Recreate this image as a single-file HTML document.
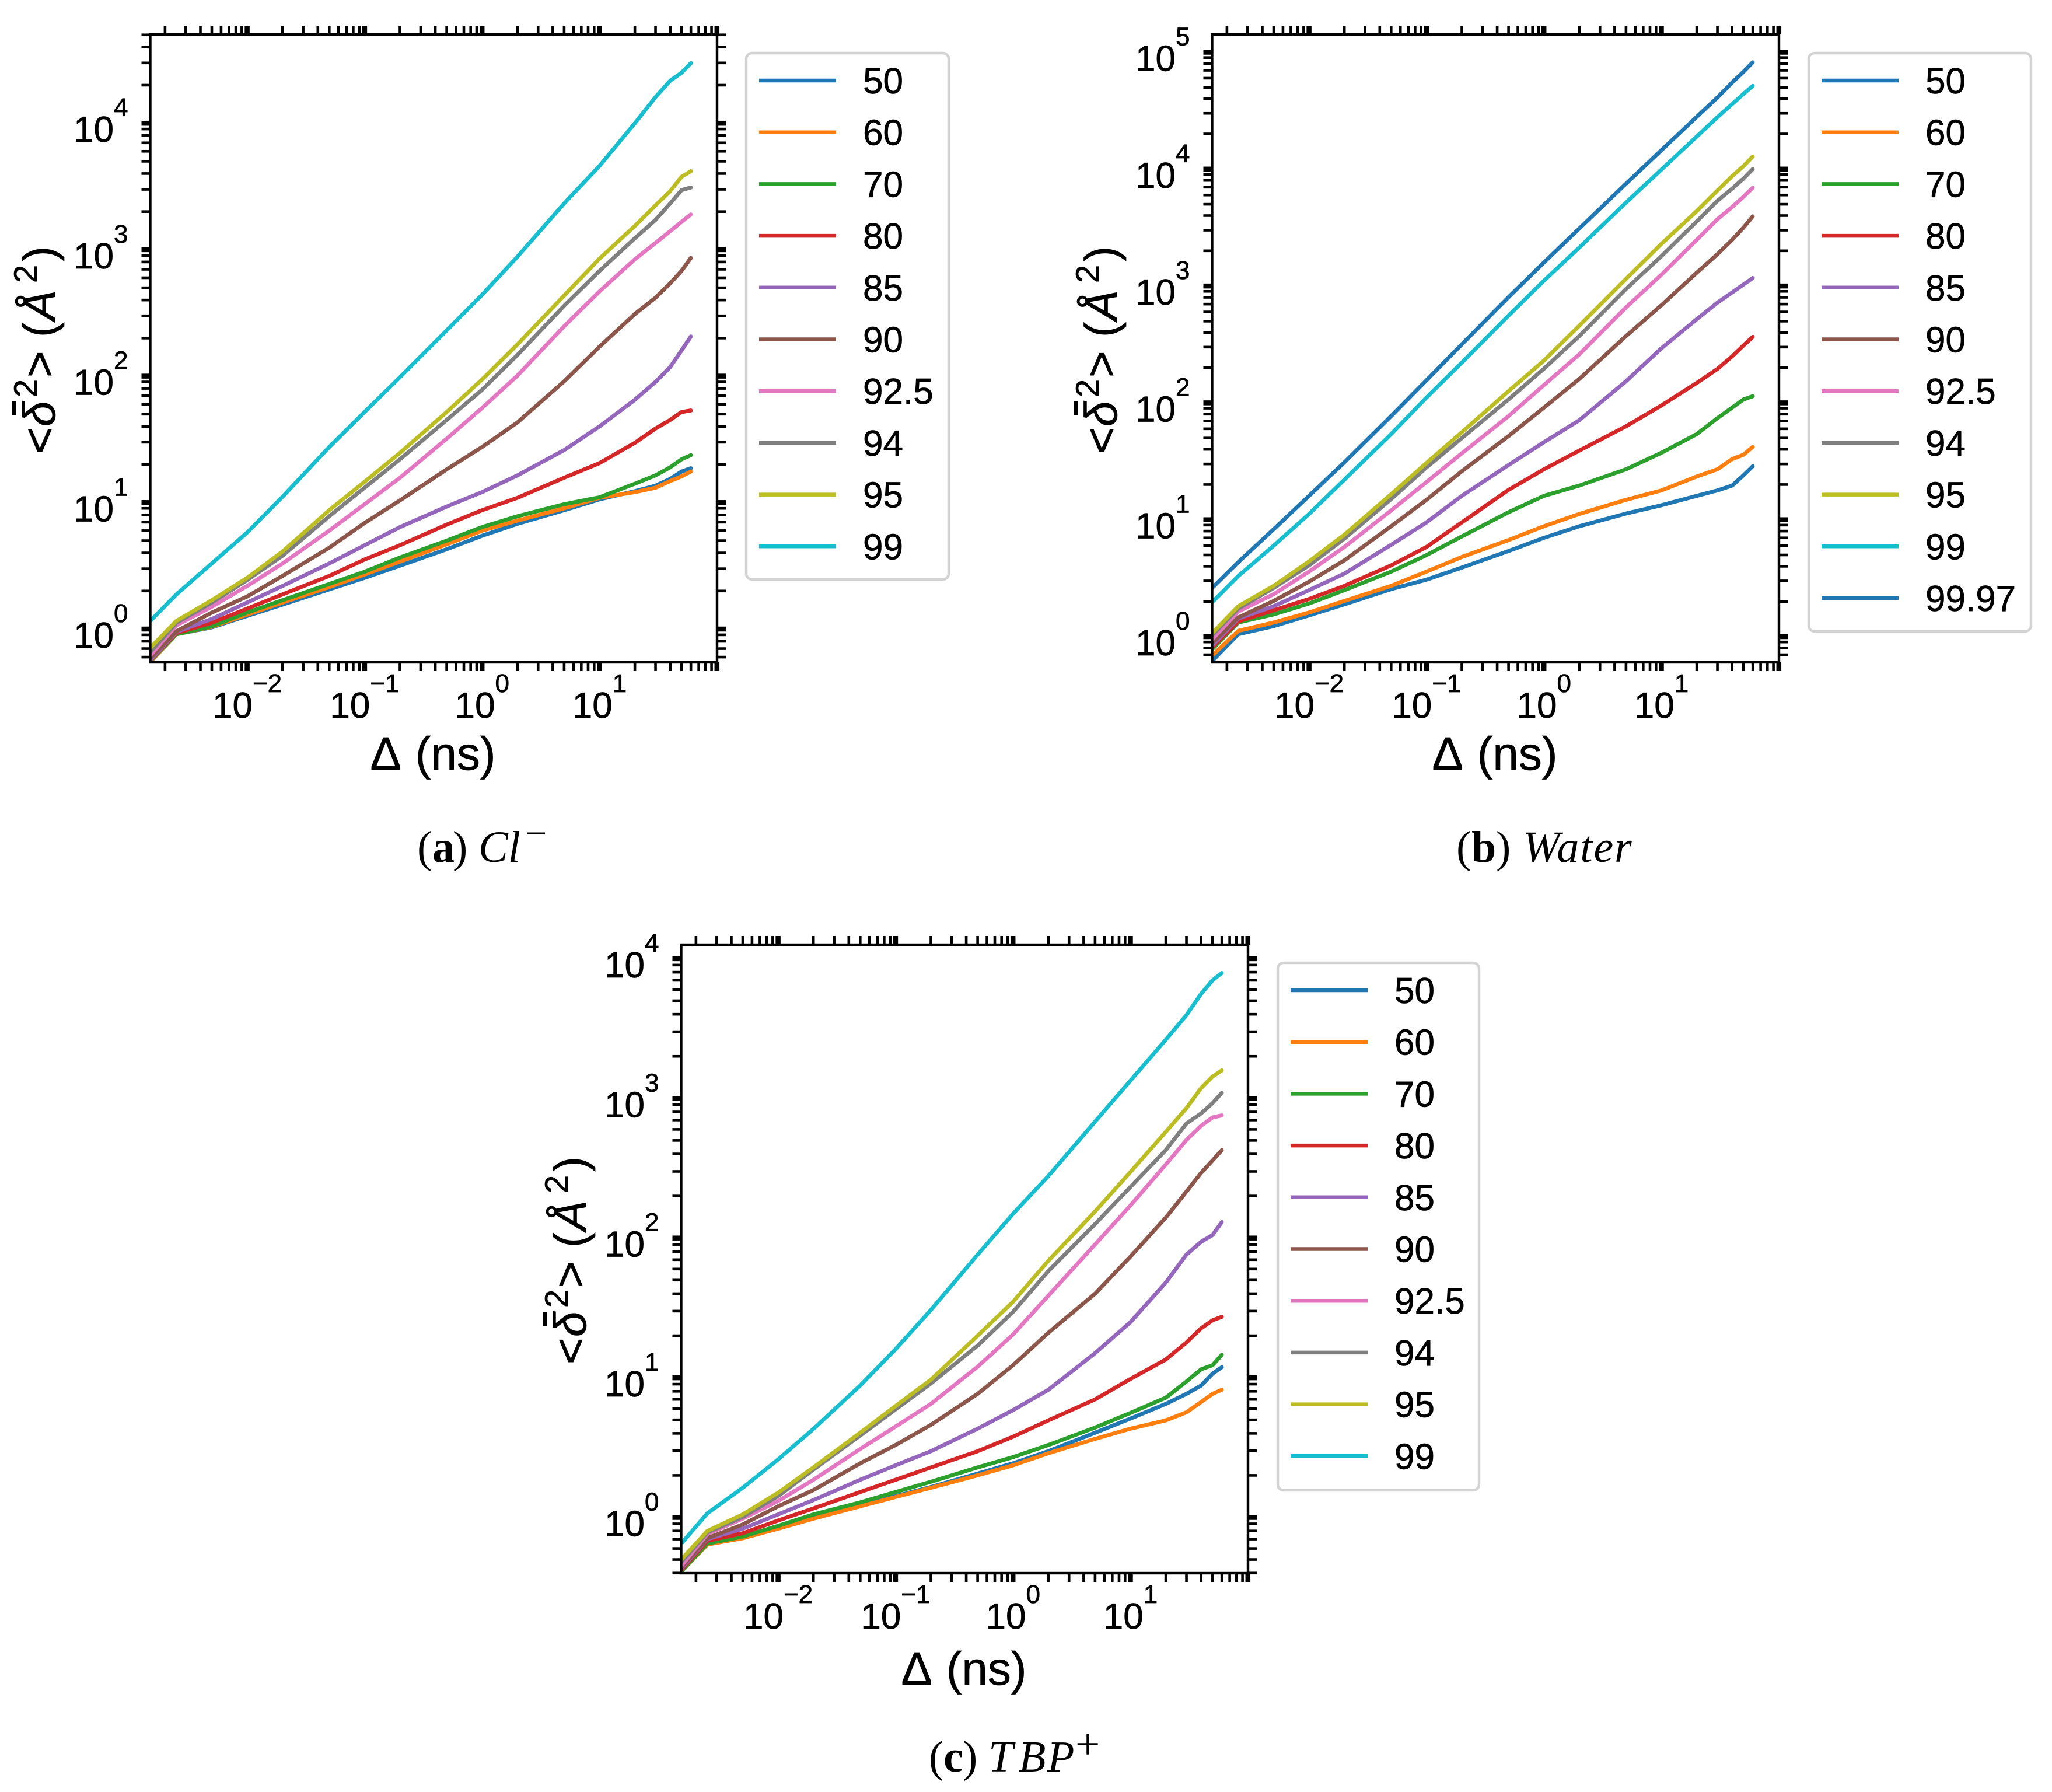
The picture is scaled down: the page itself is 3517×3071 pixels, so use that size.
<!DOCTYPE html>
<html lang="en">
<head>
<meta charset="utf-8">
<title>Mean squared displacement panels</title>
<style>
html,body{margin:0;padding:0;background:#fff;}
svg{display:block;}
text{font-family:"Liberation Sans",sans-serif;fill:#000;stroke:#000;stroke-width:.7px;}
.cap,.cap tspan{font-family:"Liberation Serif",serif;stroke-width:0;}
</style>
</head>
<body>
<svg id="figure" xmlns="http://www.w3.org/2000/svg" width="3517" height="3071" viewBox="0 0 3517 3071">
<rect x="0" y="0" width="3517" height="3071" fill="#fff"/>

<g transform="translate(94,773) rotate(-90)">
<text font-size="78"><tspan x="-5">&lt;</tspan><tspan x="42" font-style="italic">δ</tspan><tspan x="92" y="-31" font-size="56">2</tspan><tspan x="126" y="0">&gt;</tspan><tspan x="195" y="0">(</tspan><tspan x="224" y="0" font-style="italic">Å</tspan><tspan x="288" y="-31" font-size="56">2</tspan><tspan x="325" y="0">)</tspan></text>
<rect x="61" y="-74" width="24" height="7" fill="#000"/>
</g>
<text x="742" y="1319" text-anchor="middle" font-size="80" word-spacing="6">Δ (ns)</text>
<text class="cap" y="1477" font-size="76"><tspan x="715">(</tspan><tspan x="741" font-weight="bold">a</tspan><tspan x="776">)</tspan><tspan x="820" font-style="italic">Cl</tspan><tspan x="900" y="1450" font-size="66">−</tspan></text>

<g transform="translate(1914,773) rotate(-90)">
<text font-size="78"><tspan x="-5">&lt;</tspan><tspan x="42" font-style="italic">δ</tspan><tspan x="92" y="-31" font-size="56">2</tspan><tspan x="126" y="0">&gt;</tspan><tspan x="195" y="0">(</tspan><tspan x="224" y="0" font-style="italic">Å</tspan><tspan x="288" y="-31" font-size="56">2</tspan><tspan x="325" y="0">)</tspan></text>
<rect x="61" y="-74" width="24" height="7" fill="#000"/>
</g>
<text x="2562" y="1319" text-anchor="middle" font-size="80" word-spacing="6">Δ (ns)</text>
<text class="cap" y="1477" font-size="76"><tspan x="2496">(</tspan><tspan x="2522" font-weight="bold">b</tspan><tspan x="2564">)</tspan><tspan x="2610" font-style="italic" letter-spacing="2">Water</tspan></text>

<g transform="translate(1004,2333) rotate(-90)">
<text font-size="78"><tspan x="-5">&lt;</tspan><tspan x="42" font-style="italic">δ</tspan><tspan x="92" y="-31" font-size="56">2</tspan><tspan x="126" y="0">&gt;</tspan><tspan x="195" y="0">(</tspan><tspan x="224" y="0" font-style="italic">Å</tspan><tspan x="288" y="-31" font-size="56">2</tspan><tspan x="325" y="0">)</tspan></text>
<rect x="61" y="-74" width="24" height="7" fill="#000"/>
</g>
<text x="1652" y="2887" text-anchor="middle" font-size="80" word-spacing="6">Δ (ns)</text>
<text class="cap" y="3036" font-size="76"><tspan x="1592">(</tspan><tspan x="1617" font-weight="bold">c</tspan><tspan x="1650">)</tspan><tspan x="1694" font-style="italic">T</tspan><tspan x="1746" font-style="italic">B</tspan><tspan x="1795" font-style="italic">P</tspan><tspan x="1843" y="3014" font-size="75">+</tspan></text>
</svg>

<script>
// Shared lag-time samples (ns)
const lagTimes = [0.0015,0.0025,0.005,0.01,0.02,0.05,0.1,0.2,0.5,1,2,5,10,20,30,40,50,60];

// Legend labels
const labelsTen = ['50','60','70','80','85','90','92.5','94','95','99'];
const labelsEleven = ['50','60','70','80','85','90','92.5','94','95','99','99.97'];

// Tick labels (exponents) per axis
const xTickExponents = [-2,-1,0,1];
const yTickExponentsA = [0,1,2,3,4];
const yTickExponentsB = [0,1,2,3,4,5];
const yTickExponentsC = [0,1,2,3,4];

// Panel (a) Cl-
const clS50 = [.55,.91,1.03,1.27,1.56,2.06,2.54,3.17,4.28,5.47,6.8,8.7,10.6,12.3,13.6,15.4,17.6,18.7];
const clS60 = [.55,.91,1.04,1.3,1.62,2.15,2.7,3.42,4.68,6.0,7.2,9.0,10.9,12.1,13.1,14.8,16.1,17.6];
const clS70 = [.56,.91,1.05,1.35,1.69,2.27,2.84,3.68,5.0,6.4,7.8,9.7,11,14.1,16.4,19,22,23.7];
const clS80 = [.565,.93,1.12,1.45,1.88,2.63,3.55,4.6,6.7,8.7,10.9,15.7,20.5,29.7,38.5,45,52,53.5];
const clS85 = [.57,.95,1.2,1.62,2.19,3.3,4.6,6.4,9.3,12.1,16.4,26,40,65,90,118,160,206];
const clS90 = [.59,.96,1.35,1.81,2.63,4.4,6.9,10.4,18.3,27.5,43,91,171,310,417,543,680,861];
const clS925 = [.62,1.07,1.5,2.19,3.3,6.0,9.7,15.7,32,56,101,248,468,840,1130,1400,1660,1900];
const clS94 = [.66,1.12,1.62,2.44,3.8,7.8,13.1,22,45,78,147,360,680,1230,1720,2320,2960,3100];
const clS95 = [.71,1.16,1.69,2.54,4.1,8.7,14.6,24.7,52,94,178,434,850,1540,2240,2900,3770,4180];
const clS99 = [1.16,1.88,3.3,5.8,11.1,27.5,52,98,230,440,880,2320,4600,10000,16100,21700,25100,29900];

// Panel (b) Water
const waterS50 = [.62,1.05,1.23,1.52,1.89,2.55,3.07,3.9,5.4,7.0,8.8,11.3,13.3,16,17.8,19.6,24,28.7];
const waterS60 = [.69,1.12,1.32,1.61,2.02,2.72,3.6,4.8,6.7,8.8,11.2,14.8,17.8,23.4,27,33,36,42];
const waterS70 = [.78,1.32,1.55,1.92,2.5,3.6,4.98,7.2,11.6,16,19.6,27,37.4,54,74,91,107,114];
const waterS80 = [.81,1.35,1.68,2.1,2.72,4.07,5.85,9.5,18,27,39,63,95,148,195,250,310,367];
const waterS85 = [.84,1.43,1.82,2.5,3.46,6.1,9.5,16,29.4,46,71,153,293,520,720,880,1030,1170];
const waterS90 = [.88,1.46,2.02,2.95,4.5,8.8,14.8,26,52,91,160,373,684,1300,1870,2480,3160,3940];
const waterS925 = [.95,1.64,2.31,3.6,5.85,12,21,37,77,142,260,656,1250,2480,3720,4730,5800,6920];
const waterS94 = [1.03,1.74,2.61,4.07,6.9,15,28,50,107,196,373,943,1800,3570,5350,6800,8300,10000];
const waterS95 = [1.07,1.82,2.72,4.4,7.45,16.5,30.6,56,126,230,457,1150,2290,4370,6550,8700,10600,12800];
const waterS99 = [1.97,3.3,6,11.2,22,54,111,221,558,1110,2130,5170,9900,19000,27800,36000,44000,51500];
const waterS9997 = [2.61,4.34,8.3,16,31,77,156,317,803,1590,3100,7500,14500,28000,41000,55000,68000,82000];

// Panel (c) TBP+
const tbpS50 = [.41,.645,.72,.845,1,1.22,1.42,1.65,2.06,2.44,2.98,4.04,5.1,6.5,7.67,8.8,10.7,11.9];
const tbpS60 = [.41,.64,.71,.83,.98,1.2,1.4,1.63,2.0,2.36,2.88,3.65,4.32,4.95,5.66,6.7,7.67,8.2];
const tbpS70 = [.41,.65,.73,.87,1.05,1.28,1.52,1.8,2.28,2.7,3.3,4.4,5.6,7.2,9.4,11.5,12.3,14.6];
const tbpS80 = [.42,.68,.77,.95,1.16,1.52,1.86,2.28,2.98,3.78,4.95,7.0,9.8,13.5,17.9,22.6,25.8,27.3];
const tbpS85 = [.43,.7,.83,1.05,1.33,1.86,2.36,2.98,4.32,5.86,8.2,15,25,48,76,94,105,130];
const tbpS90 = [.44,.71,.89,1.2,1.57,2.44,3.3,4.6,7.67,12.3,21,40,73.6,140,215,293,359,426];
const tbpS925 = [.45,.76,.98,1.31,1.86,3.09,4.47,6.5,12,20.4,38.7,90,171,336,503,637,730,755];
const tbpS94 = [.48,.78,1.01,1.42,2.2,3.86,5.94,9.1,17,29.6,58,126,232,426,660,780,925,1095];
const tbpS95 = [.5,.8,1.05,1.5,2.28,4.04,6.27,9.7,20,35,68.7,155,297,575,851,1186,1432,1586];
const tbpS99 = [.65,1.07,1.63,2.6,4.3,8.8,16,30.6,76,149,278,682,1340,2630,3940,5600,7000,7890];

const clSeries = [clS50,clS60,clS70,clS80,clS85,clS90,clS925,clS94,clS95,clS99];
const waterSeries = [waterS50,waterS60,waterS70,waterS80,waterS85,waterS90,waterS925,waterS94,waterS95,waterS99,waterS9997];
const tbpSeries = [tbpS50,tbpS60,tbpS70,tbpS80,tbpS85,tbpS90,tbpS925,tbpS94,tbpS95,tbpS99];

const palette = ['#1f77b4','#ff7f0e','#2ca02c','#d62728','#9467bd','#8c564b','#e377c2','#7f7f7f','#bcbd22','#17becf','#1f77b4'];
const NS = 'http://www.w3.org/2000/svg';
const fig = document.getElementById('figure');

function make(tag, attrs, parent) {
  const el = document.createElementNS(NS, tag);
  for (const k in attrs) el.setAttribute(k, attrs[k]);
  parent.appendChild(el);
  return el;
}

function powerLabel(parent, exp, attrs) {
  const t = make('text', attrs, parent);
  t.setAttribute('font-size', '62');
  t.appendChild(document.createTextNode('10'));
  const s = make('tspan', {'font-size': '44', dy: '-44'}, t);
  s.textContent = String(exp).replace('-', '\u2212');
  return t;
}

function drawPanel(id, geo, series, labels, yExps) {
  const g = make('g', {}, fig);
  
  

  const xOf = v => geo.x10 + (Math.log10(v) - 1) * geo.xDecade;
  const yOf = v => geo.y1 - Math.log10(v) * geo.yDecade;

  const clipId = 'clip-' + id;
  const cp = make('clipPath', {id: clipId}, g);
  make('rect', {x: geo.left, y: geo.top, width: geo.right - geo.left, height: geo.bottom - geo.top}, cp);

  const lines = make('g', {'clip-path': 'url(#' + clipId + ')'}, g);
  
  
  series.forEach((vals, i) => {
    const pts = vals.map((v, j) => xOf(lagTimes[j]).toFixed(1) + ',' + yOf(v).toFixed(1)).join(' ');
    const line = make('polyline', {points: pts, fill: 'none', stroke: palette[i], 'stroke-width': 6.8, 'stroke-linejoin': 'round', 'stroke-linecap': 'round'}, lines);
    
    
  });

  const ticks = make('g', {stroke: '#000'}, g);
  
  
  for (let d = -3; d <= 6; d++) {
    for (let m = 1; m < 10; m++) {
      const v = m * Math.pow(10, d);
      const x = xOf(v), y = yOf(v);
      const w = m === 1 ? 8.5 : 4.6;
      if (x >= geo.left && x <= geo.right) {
        make('line', {x1: x, x2: x, y1: geo.bottom, y2: geo.bottom + geo.tick, 'stroke-width': w}, ticks);
        make('line', {x1: x, x2: x, y1: geo.top, y2: geo.top - geo.tick, 'stroke-width': w}, ticks);
      }
      if (y >= geo.top && y <= geo.bottom) {
        make('line', {x1: geo.left, x2: geo.left - geo.tick, y1: y, y2: y, 'stroke-width': w}, ticks);
        make('line', {x1: geo.right, x2: geo.right + geo.tick, y1: y, y2: y, 'stroke-width': w}, ticks);
      }
    }
  }

  const frame = make('rect', {x: geo.left, y: geo.top, width: geo.right - geo.left, height: geo.bottom - geo.top, fill: 'none', stroke: '#000', 'stroke-width': 4.4}, g);
  
  

  xTickExponents.forEach(e => {
    const t = powerLabel(g, e, {x: xOf(Math.pow(10, e)), y: geo.bottom + 95, 'text-anchor': 'middle'});
    
    
  });
  yExps.forEach(e => {
    const t = powerLabel(g, e, {x: geo.left - 38, y: yOf(Math.pow(10, e)) + 32, 'text-anchor': 'end'});
    
    
  });

  const legend = make('g', {}, g);
  
  
  const box = make('rect', {x: geo.legX, y: geo.legY, width: geo.legW, height: geo.legH, rx: 10, ry: 10, fill: '#fff', stroke: '#d3d3d3', 'stroke-width': 4.5}, legend);
  
  
  labels.forEach((lab, i) => {
    const y = geo.legY + 47 + i * 88.7;
    const sw = make('line', {x1: geo.legX + 22, x2: geo.legX + 154, y1: y, y2: y, stroke: palette[i], 'stroke-width': 6.5}, legend);
    
    
    const tx = make('text', {x: geo.legX + 200, y: y + 22, 'font-size': 62}, legend);
    tx.textContent = lab;
    
    
  });
}

drawPanel('a', {left:257.5,right:1229,top:59,bottom:1135,x10:1027.5,xDecade:201.3,y1:1078,yDecade:216.7,tick:15,legX:1279,legY:91,legW:347,legH:902}, clSeries, labelsTen, yTickExponentsA);
drawPanel('b', {left:2077.5,right:3049,top:59,bottom:1135,x10:2847.5,xDecade:201.3,y1:1091,yDecade:200.3,tick:15,legX:3100,legY:91,legW:381,legH:991}, waterSeries, labelsEleven, yTickExponentsB);
drawPanel('c', {left:1167.5,right:2139,top:1619,bottom:2696,x10:1937.5,xDecade:201.3,y1:2600.5,yDecade:239.4,tick:15,legX:2190,legY:1650,legW:345,legH:904}, tbpSeries, labelsTen, yTickExponentsC);
</script>
</body>
</html>
